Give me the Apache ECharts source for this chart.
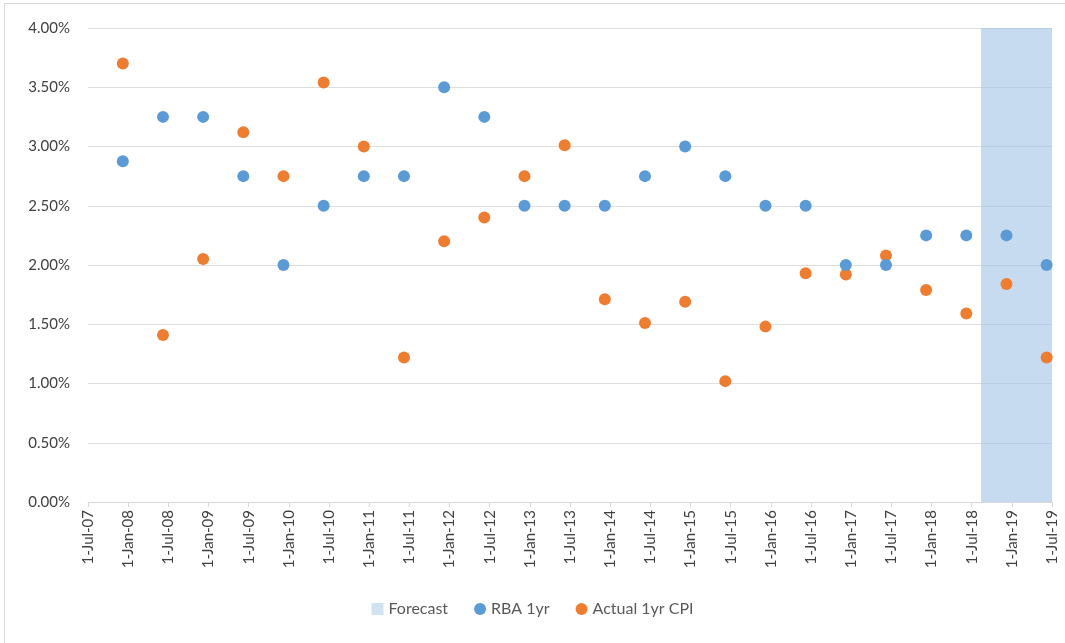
<!DOCTYPE html>
<html>
<head>
<meta charset="utf-8">
<script src="https://cdn.jsdelivr.net/npm/echarts@6/dist/echarts.min.js"></script>
<style>
html,body{margin:0;padding:0;background:#fff;}
#frame{position:absolute;left:4px;top:3px;width:1080px;height:660px;border:1px solid #d9d9d9;box-sizing:border-box;}
#chart{position:absolute;left:0;top:0;width:1065px;height:643px;}
</style>
</head>
<body>
<div id="frame"></div>
<div id="chart"></div>
<script>
// Tick labels (every 6 months from 1-Jul-07)
const tickLabels = ['1-Jul-07','1-Jan-08','1-Jul-08','1-Jan-09','1-Jul-09','1-Jan-10','1-Jul-10','1-Jan-11','1-Jul-11','1-Jan-12','1-Jul-12','1-Jan-13','1-Jul-13','1-Jan-14','1-Jul-14','1-Jan-15','1-Jul-15','1-Jan-16','1-Jul-16','1-Jan-17','1-Jul-17','1-Jan-18','1-Jul-18','1-Jan-19','1-Jul-19'];
// Observation dates
const dates = ['2007-12-07','2008-06-07','2008-12-07','2009-06-07','2009-12-07','2010-06-07','2010-12-07','2011-06-07','2011-12-07','2012-06-07','2012-12-07','2013-06-07','2013-12-07','2014-06-07','2014-12-07','2015-06-07','2015-12-07','2016-06-07','2016-12-07','2017-06-07','2017-12-07','2018-06-07','2018-12-07','2019-06-07'];
// RBA 1yr forecast (%)
const rba = [2.875,3.25,3.25,2.75,2.0,2.5,2.75,2.75,3.5,3.25,2.5,2.5,2.5,2.75,3.0,2.75,2.5,2.5,2.0,2.0,2.25,2.25,2.25,2.0];
// Actual 1yr CPI (%)
const cpi = [3.70,1.41,2.05,3.12,2.75,3.54,3.0,1.22,2.20,2.40,2.75,3.01,1.71,1.51,1.69,1.02,1.48,1.93,1.92,2.08,1.79,1.59,1.84,1.22];
// Forecast period
const forecastStart = '2018-08-13';
const forecastEnd = '2019-07-01';

function toMonths(s){
  const [y,m,d] = s.split('-').map(Number);
  return (y-2007)*12 + (m-7) + (d-1)/30;
}
const xs = dates.map(toMonths);
const font = 'Lato, "Liberation Sans", sans-serif';

const chart = echarts.init(document.getElementById('chart'));
chart.setOption({
  animation:false,
  textStyle:{fontFamily:font},
  grid:{left:88,right:13,top:28,bottom:141},
  legend:{
    top:596,left:'center',itemWidth:12,itemHeight:12,itemGap:26,
    textStyle:{fontFamily:font,fontSize:16,color:'#595959'},
    data:[{name:'Forecast',icon:'rect'},{name:'RBA 1yr',icon:'circle'},{name:'Actual 1yr CPI',icon:'circle'}]
  },
  xAxis:{
    type:'value',min:0,max:144,interval:6,
    axisLine:{lineStyle:{color:'#d9d9d9'}},
    axisTick:{show:true,length:5,lineStyle:{color:'#d9d9d9'}},
    splitLine:{show:false},
    axisLabel:{rotate:90,margin:8,fontSize:15,color:'#404040',fontFamily:font,
      formatter:v=>tickLabels[Math.round(v/6)]||''}
  },
  yAxis:{
    type:'value',min:0,max:4,interval:0.5,
    axisLine:{show:false},axisTick:{show:false},
    splitLine:{lineStyle:{color:'#dedede'}},
    axisLabel:{fontSize:15,color:'#404040',margin:18,fontFamily:font,formatter:v=>v.toFixed(2)+'%'}
  },
  series:[
    {name:'Forecast',type:'scatter',data:[],itemStyle:{color:'#c6dbef'},
      markArea:{silent:true,itemStyle:{color:'rgba(157,193,227,0.58)'},
        data:[[{xAxis:toMonths(forecastStart),yAxis:0},{xAxis:toMonths(forecastEnd),yAxis:4}]]}},
    {name:'RBA 1yr',type:'scatter',symbolSize:12,z:4,itemStyle:{color:'#5b9bd5',opacity:1},
      data:xs.map((x,i)=>[x,rba[i]])},
    {name:'Actual 1yr CPI',type:'scatter',symbolSize:12,z:3,itemStyle:{color:'#ed7d31',opacity:1},
      data:xs.map((x,i)=>[x,cpi[i]])}
  ]
});
</script>
</body>
</html>
